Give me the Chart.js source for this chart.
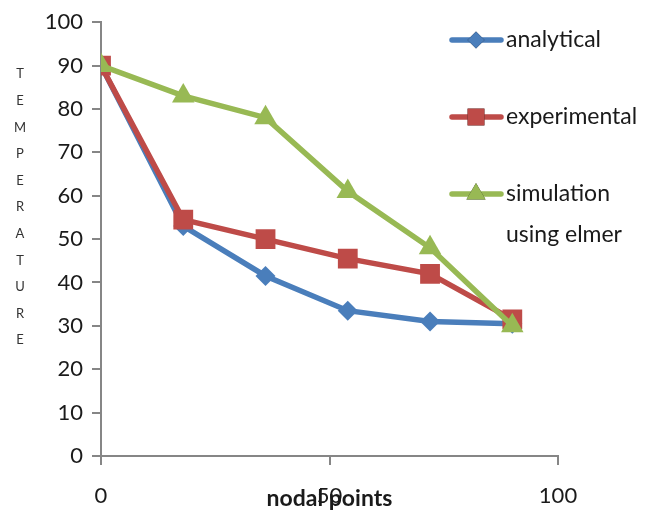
<!DOCTYPE html>
<html>
<head>
<meta charset="utf-8">
<script src="https://cdn.jsdelivr.net/npm/chart.js@4"></script>
<style>
  html, body { margin: 0; padding: 0; background: #fff; }
  #wrap { width: 658px; height: 512px; }
</style>
</head>
<body>
<div id="wrap"><canvas id="tempChart" width="658" height="512"></canvas></div>
<script>
// Datos
const nodalPoints = [0, 18, 36, 54, 72, 90];
const analytical = [90, 53, 41.5, 33.5, 31, 30.5];
const experimental = [90, 54.5, 50, 45.5, 42, 31.5];
const simulation = [90, 83, 78, 61, 48, 30];
const seriesLabels = [['analytical'], ['experimental'], ['simulation', 'using elmer']];
const xTitle = 'nodal points';
const yTitle = 'TEMPERATURE';

const colores = ['#4A7EBB', '#BE4B48', '#98B954'];
const marcadores = ['rectRot', 'rect', 'triangle'];
const radios = [10, 14, 13];
const fuente = 'Lato, "Open Sans", sans-serif';

function puntos(valores) {
    return nodalPoints.map((x, i) => ({ x: x, y: valores[i] }));
}

const series = [analytical, experimental, simulation];
const datasets = series.map((valores, i) => ({
    label: seriesLabels[i].join(' '),
    data: puntos(valores),
    borderColor: colores[i],
    backgroundColor: colores[i],
    borderWidth: 5.5,
    pointStyle: marcadores[i],
    pointRadius: radios[i],
    pointHoverRadius: radios[i],
    pointBorderWidth: 0,
    tension: 0,
    order: 2 - i
}));

// Textos de ejes y leyenda dibujados a mano
const textosPlugin = {
    id: 'textos',
    afterDraw(chart) {
        const ctx = chart.ctx;
        const area = chart.chartArea;
        ctx.save();

        // titulo vertical del eje Y, letra por letra
        ctx.fillStyle = '#333';
        ctx.font = '13px ' + fuente;
        ctx.textAlign = 'center';
        ctx.textBaseline = 'middle';
        yTitle.split('').forEach((letra, i) => {
            ctx.fillText(letra, 20, area.top + 52 + i * 26.6);
        });

        // titulo del eje X
        ctx.fillStyle = '#1a1a1a';
        ctx.font = 'bold 23px ' + fuente;
        ctx.fillText(xTitle, (area.left + area.right) / 2, 499);

        // leyenda
        const filas = [40, 117, 194];
        ctx.textAlign = 'left';
        ctx.font = '23px ' + fuente;
        seriesLabels.forEach((lineas, i) => {
            const y = filas[i];
            ctx.strokeStyle = colores[i];
            ctx.lineWidth = 5.5;
            ctx.lineCap = 'round';
            ctx.beginPath();
            ctx.moveTo(452, y);
            ctx.lineTo(501, y);
            ctx.stroke();
            Chart.helpers.drawPoint(ctx, {
                pointStyle: marcadores[i],
                radius: radios[i] * 0.85,
                rotation: 0,
                borderWidth: 0
            }, 476, y);
            ctx.fillStyle = colores[i];
            ctx.fill();
            ctx.fillStyle = '#1a1a1a';
            lineas.forEach((t, j) => ctx.fillText(t, 506, y + j * 41));
        });
        ctx.restore();
    }
};

const ctx = document.getElementById('tempChart').getContext('2d');
window.tempChartInstance = new Chart(ctx, {
    type: 'line',
    data: { datasets: datasets },
    plugins: [textosPlugin],
    options: {
        responsive: false,
        animation: false,
        layout: { padding: { top: 20, right: 100, left: 0, bottom: 0 } },
        plugins: {
            legend: { display: false },
            tooltip: { enabled: false }
        },
        scales: {
            x: {
                type: 'linear',
                min: 0,
                max: 100,
                afterFit(scale) { scale.height = 56; },
                ticks: {
                    stepSize: 50,
                    padding: 18,
                    color: '#1a1a1a',
                    font: { family: fuente, size: 22 }
                },
                grid: {
                    drawOnChartArea: false,
                    tickLength: 9,
                    color: '#868686',
                    lineWidth: 2
                },
                border: { color: '#868686', width: 2 }
            },
            y: {
                min: 0,
                max: 100,
                afterFit(scale) { scale.width = 101; },
                ticks: {
                    stepSize: 10,
                    padding: 9,
                    color: '#1a1a1a',
                    font: { family: fuente, size: 22 }
                },
                grid: {
                    drawOnChartArea: false,
                    tickLength: 9,
                    color: '#868686',
                    lineWidth: 2
                },
                border: { color: '#868686', width: 2 }
            }
        }
    }
});
</script>
</body>
</html>
